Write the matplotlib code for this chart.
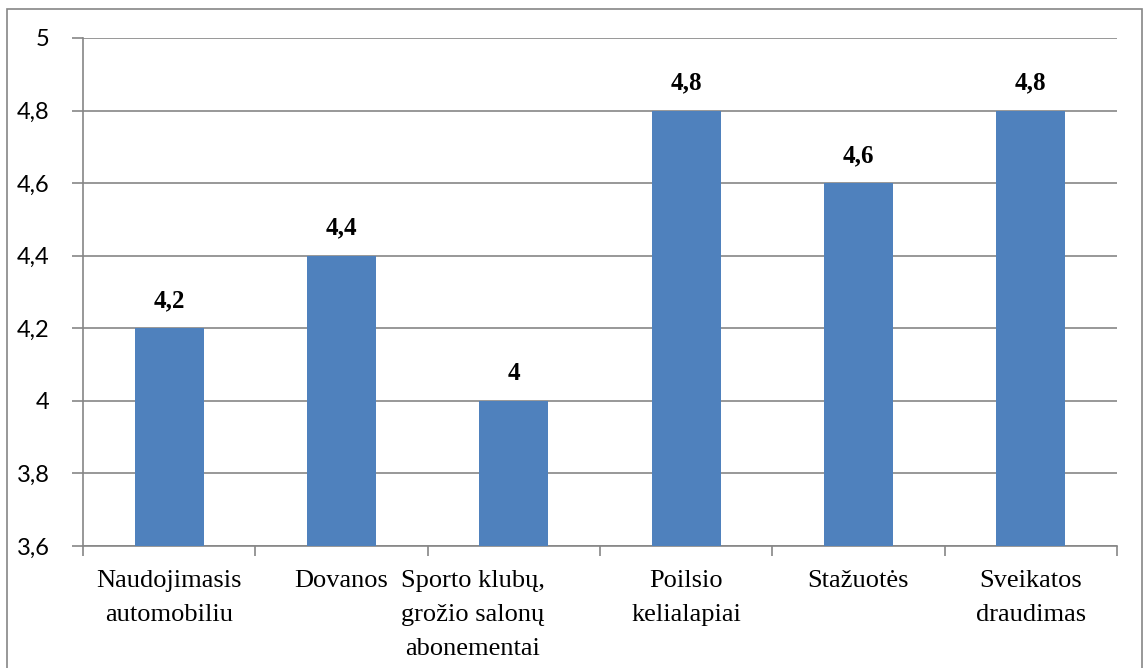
import matplotlib.pyplot as plt
from matplotlib.patches import Rectangle

categories = [
    "Naudojimasis\nautomobiliu",
    "Dovanos",
    "Sporto klubų,\ngrožio salonų\nabonementai",
    "Poilsio\nkelialapiai",
    "Stažuotės",
    "Sveikatos\ndraudimas",
]
values = [4.2, 4.4, 4.0, 4.8, 4.6, 4.8]
y_ticks = [3.6, 3.8, 4.0, 4.2, 4.4, 4.6, 4.8, 5.0]

bar_color = "#4F81BD"
axis_color = "#868686"
# the three-line label sits a bit left of its slot
label_shift = [0, 0, -0.24, 0, 0, 0]

fig = plt.figure(figsize=(11.48, 6.68), dpi=100)
ax = fig.add_axes([83 / 1148, 1 - 546 / 668, (1117 - 83) / 1148, (546 - 38) / 668])

# outer chart frame (runs off the bottom edge)
fig.patches.append(Rectangle((7 / 1148, -0.05), (1142 - 7) / 1148, 1.05 - 9 / 668,
                             transform=fig.transFigure, fill=False,
                             edgecolor=axis_color, linewidth=1.2))

x = list(range(len(categories)))
ax.bar(x, values, width=0.4, color=bar_color, zorder=3)

ax.set_xlim(-0.5, len(categories) - 0.5)
ax.set_ylim(3.6, 5.0)
ax.set_yticks(y_ticks)
ax.set_yticklabels([f"{v:g}".replace(".", ",") for v in y_ticks],
                   family="Lato", fontsize=17)
ax.yaxis.grid(True, color=axis_color, linewidth=1.2, zorder=0)

# category separators as x ticks, labels placed in the middle
ax.set_xticks([i - 0.5 for i in range(len(categories) + 1)])
ax.set_xticklabels([])
ax.tick_params(axis="x", length=7, width=1.2, color=axis_color)
ax.tick_params(axis="y", length=8, width=1.2, color=axis_color, pad=16)
for i, lab in enumerate(categories):
    ax.text(i + label_shift[i], 3.535, lab, ha="center", va="top",
            family="Liberation Serif", fontsize=19, linespacing=1.72)

for i, v in enumerate(values):
    ax.text(i, v + 0.045, f"{v:g}".replace(".", ","), ha="center", va="bottom",
            family="Liberation Serif", fontsize=18, fontweight="bold")

for side in ("top", "right"):
    ax.spines[side].set_visible(False)
for side in ("left", "bottom"):
    ax.spines[side].set_color(axis_color)
    ax.spines[side].set_linewidth(1.2)

fig.savefig("out.png", dpi=100)
